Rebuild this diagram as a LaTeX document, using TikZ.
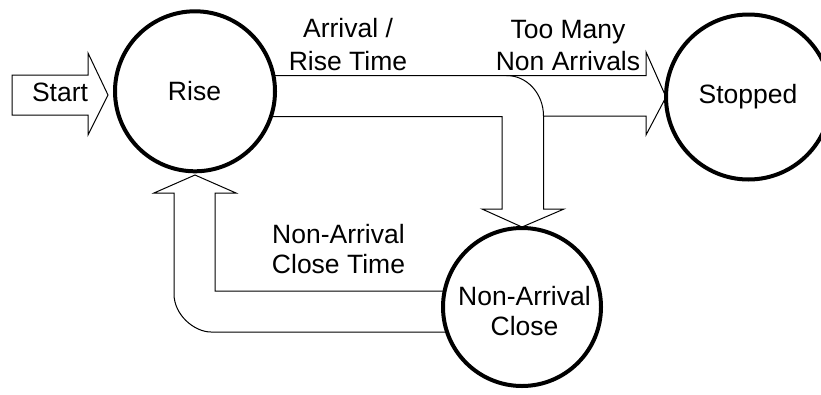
\documentclass[tikz,border=0pt]{standalone}
\usepackage{fontspec}
\setmainfont{Liberation Sans}
\begin{document}
\begin{tikzpicture}[x=1pt,y=-1pt,
  state/.style={circle, draw=black, line width=4pt, fill=white, inner sep=0pt},
  blockarrow/.style={draw=black, line width=1pt, line join=miter},
  lbl/.style={font=\fontsize{26.5}{31.5}\selectfont, anchor=base, inner sep=0pt}]
\useasboundingbox (0,0) rectangle (821,394);
\clip (0,0) rectangle (821,394);

% state circle positions
\coordinate (riseC) at (195,91.3);
\coordinate (stopC) at (748.5,97);
\coordinate (closeC) at (522,307);

% Start arrow
\draw[blockarrow] (12,75) -- (88,75) -- (88,53) -- (108,95) -- (88,135) -- (88,115) -- (12,115) -- cycle;

% Rise -> Stopped / Rise -> Non-Arrival Close (split band)
\draw[blockarrow] (riseC |- 0,75.5) -- (646,75.5) -- (646,52) -- (666,97) -- (646,135) -- (646,116)
  -- (543.5,116) -- (543.5,209) -- (564,209) -- (522,227) -- (482,209) -- (502,209)
  -- (502,116.5) -- (riseC |- 0,116.5);
\draw[blockarrow] (506.5,75.5) .. controls (527,75.5) and (543.5,93.6) .. (543.5,116);

% Non-Arrival Close -> Rise
\draw[blockarrow] (closeC |- 0,291) -- (215,291) -- (215,193) -- (236,193) -- (195,175) -- (154,193)
  -- (174,193) -- (174,294) .. controls (174,315) and (194.4,332) .. (211,332) -- (closeC |- 0,332);

% states
\node[state, minimum size=160pt] (rise) at (riseC) {};
\node[state, minimum size=165pt] (stopped) at (stopC) {};
\node[state, minimum size=158pt] (close) at (closeC) {};

% texts
\node[lbl] (tstart) at (60,101.5) {Start};
\node[lbl] (trise) at (194.5,100) {Rise};
\node[lbl] (tstop) at (748,103.5) {Stopped};
\node[lbl] (tclose1) at (524.5,305) {Non-Arrival};
\node[lbl] (tclose2) at (524.5,335) {Close};
\node[lbl] (tarr1) at (348,37.5) {Arrival /};
\node[lbl] (tarr2) at (348,70) {Rise Time};
\node[lbl] (ttoo1) at (568,38) {Too Many};
\node[lbl] (ttoo2) at (568,70) {Non Arrivals};
\node[lbl] (tnac1) at (338.5,243.5) {Non-Arrival};
\node[lbl] (tnac2) at (338.5,273.5) {Close Time};
\end{tikzpicture}
\end{document}
